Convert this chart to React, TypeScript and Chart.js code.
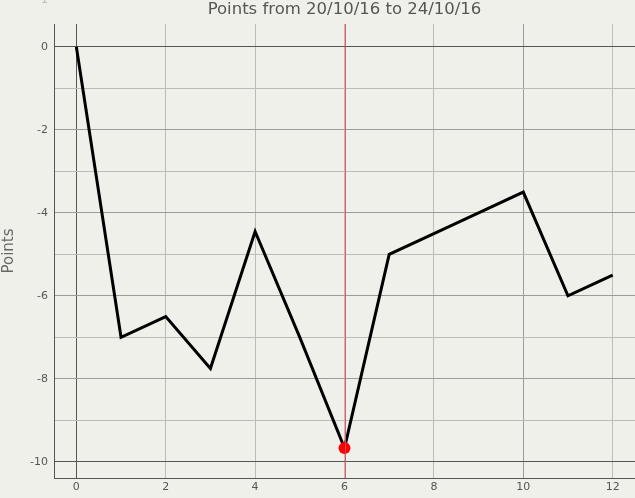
import React, { useEffect, useRef } from 'react';
import { Chart, registerables } from 'chart.js';

Chart.register(...registerables);

const xValues = [0, 1, 2, 3, 4, 5, 6, 7, 8, 9, 10, 11, 12];
const pointValues = [0, -7, -6.5, -7.75, -4.45, -7, -9.67, -5, -4.5, -4, -3.5, -6, -5.5];
const xTickValues = [0, 2, 4, 6, 8, 10, 12];
const yTickValues = [-10, -9, -8, -7, -6, -5, -4, -3, -2, -1, 0];
const extraTopTick = 1;
const titleText = 'Points from 20/10/16 to 24/10/16';
const yAxisTitle = 'Points';

const BG = '#f0f0eb';
const FONT = "'DejaVu Sans', Verdana, sans-serif";

export default function App() {
  const canvasRef = useRef<HTMLCanvasElement | null>(null);

  useEffect(() => {
    const canvas = canvasRef.current;
    if (!canvas) return;

    let minIdx = 0;
    pointValues.forEach((v, i) => {
      if (v < pointValues[minIdx]) minIdx = i;
    });

    const bgPlugin = {
      id: 'bgfill',
      beforeDraw(chart: any) {
        const c = chart.ctx;
        c.save();
        c.fillStyle = BG;
        c.fillRect(0, 0, chart.width, chart.height);
        c.restore();
      },
    };

    const markerPlugin = {
      id: 'minmarker',
      afterDatasetsDraw(chart: any) {
        const c = chart.ctx;
        const xs = chart.scales.x;
        const a = chart.chartArea;
        const px = Math.round(xs.getPixelForValue(xValues[minIdx]));
        c.save();
        c.fillStyle = 'rgba(232,70,95,0.9)';
        c.fillRect(px, a.top, 1, a.bottom - a.top);
        c.restore();
      },
      afterDraw(chart: any) {
        const c = chart.ctx;
        const ys = chart.scales.y;
        const py = ys.getPixelForValue(extraTopTick);
        c.save();
        c.fillStyle = 'rgba(85,85,85,0.35)';
        c.font = `11px ${FONT}`;
        c.textAlign = 'right';
        c.textBaseline = 'bottom';
        c.fillText(String(extraTopTick), ys.right - 6, py);
        c.restore();
      },
    };

    const chart = new Chart(canvas, {
      type: 'line',
      data: {
        datasets: [
          {
            data: xValues.map((x, i) => ({ x, y: pointValues[i] })),
            borderColor: '#000',
            borderWidth: 3,
            tension: 0,
            fill: false,
            pointRadius: (ctx: any) => (ctx.dataIndex === minIdx ? 6 : 0),
            pointHoverRadius: 0,
            pointBackgroundColor: '#ff0000',
            pointBorderColor: '#ff0000',
            pointBorderWidth: 0,
          },
        ],
      },
      options: {
        responsive: false,
        animation: false,
        events: [],
        layout: { padding: 0 },
        plugins: {
          legend: { display: false },
          tooltip: { enabled: false },
          title: {
            display: true,
            text: titleText,
            fullSize: false,
            color: '#555',
            font: { family: FONT, size: 16.5, weight: 'normal' },
            padding: { top: 0, bottom: 4.2 },
          },
        },
        scales: {
          x: {
            type: 'linear',
            min: -0.5,
            max: 12.5,
            afterBuildTicks: (scale: any) => {
              scale.ticks = xTickValues.map((v) => ({ value: v }));
            },
            afterFit: (scale: any) => {
              scale.height = 20;
            },
            grid: {
              drawTicks: false,
              lineWidth: 1,
              color: (ctx: any) => {
                const v = ctx.tick ? ctx.tick.value : null;
                if (v === 0) return '#555';
                if (v === 10) return '#9c9c9c';
                return '#bcbcb8';
              },
            },
            border: { display: true, color: '#555', width: 1 },
            ticks: {
              color: '#555',
              font: { family: FONT, size: 11 },
              padding: 3,
              maxRotation: 0,
              autoSkip: false,
            },
          },
          y: {
            type: 'linear',
            min: -10.39,
            max: 0.55,
            afterBuildTicks: (scale: any) => {
              scale.ticks = yTickValues.map((v) => ({ value: v }));
            },
            afterFit: (scale: any) => {
              scale.width = 54;
            },
            grid: {
              drawTicks: false,
              lineWidth: 1,
              color: (ctx: any) => {
                const v = ctx.tick ? ctx.tick.value : null;
                if (v === 0 || v === -10) return '#555';
                if (v !== null && Math.abs(v) % 2 === 0) return '#9c9c9c';
                return '#bcbcb8';
              },
            },
            border: { display: true, color: '#555', width: 1 },
            title: {
              display: true,
              text: yAxisTitle,
              color: '#666',
              font: { family: FONT, size: 15, weight: 'normal' },
              padding: 0,
            },
            ticks: {
              color: '#555',
              font: { family: FONT, size: 11 },
              padding: 6,
              autoSkip: false,
              callback: (value: any) => (Math.abs(Number(value)) % 2 === 0 ? String(value) : ''),
            },
          },
        },
      },
      plugins: [bgPlugin, markerPlugin],
    } as any);

    return () => {
      chart.destroy();
    };
  }, []);

  return (
    <div style={{ position: 'absolute', left: 0, top: 0, width: 635, height: 498, background: BG }}>
      <canvas ref={canvasRef} width={635} height={498} style={{ display: 'block' }} />
    </div>
  );
}
